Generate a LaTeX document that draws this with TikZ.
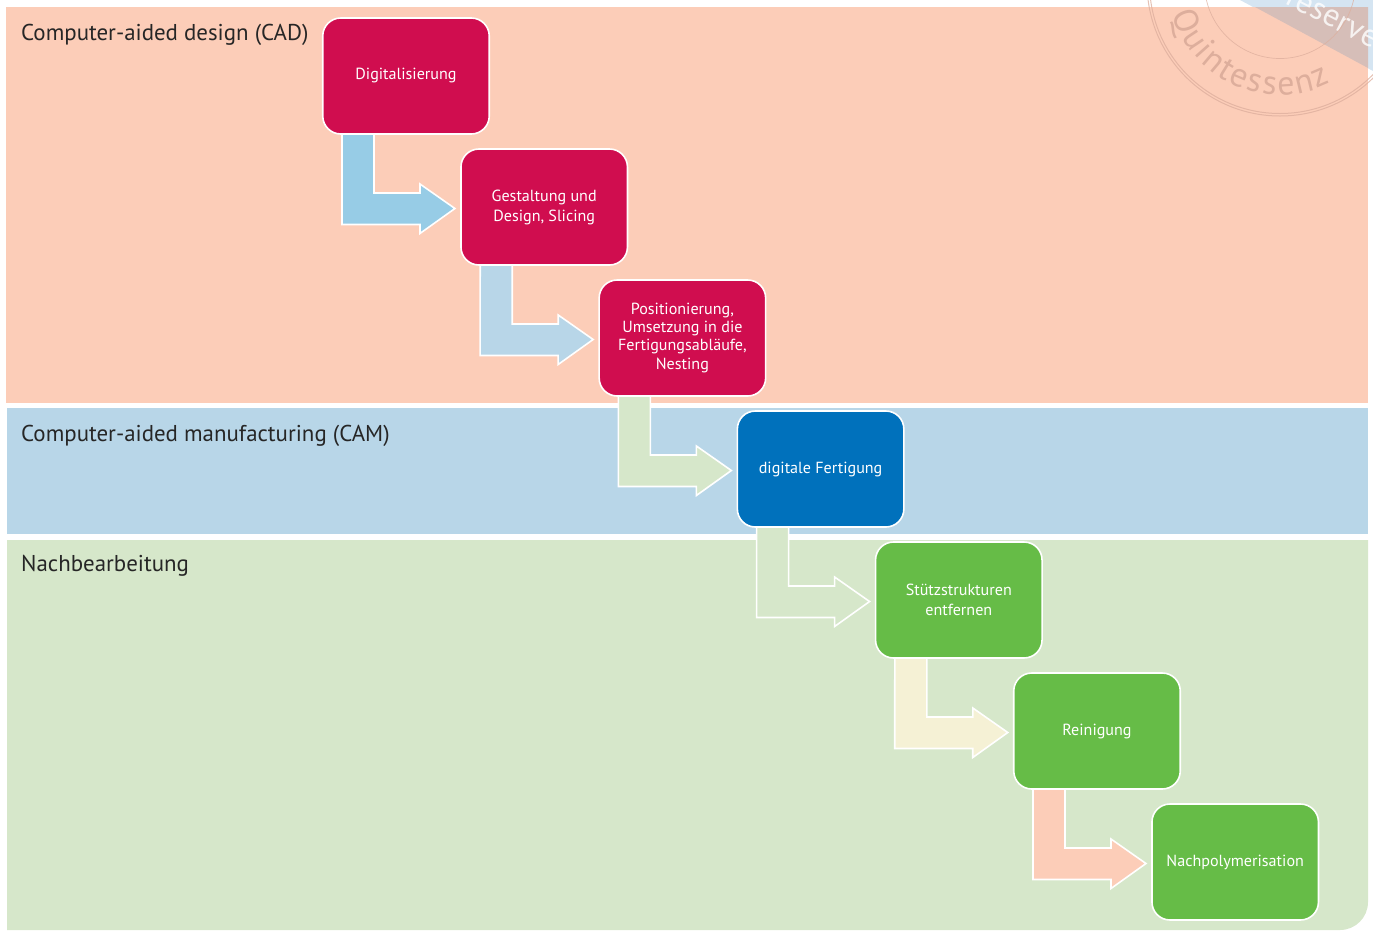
\documentclass[tikz,border=0pt]{standalone}
\usepackage{fontspec}
\setmainfont{PT Sans}
\usetikzlibrary{positioning,calc,decorations.text}
\definecolor{cadband}{HTML}{FCCDB8}
\definecolor{camband}{HTML}{B8D6E8}
\definecolor{postband}{HTML}{D6E7CA}
\definecolor{cadbox}{HTML}{D00D4F}
\definecolor{cambox}{HTML}{0071BC}
\definecolor{postbox}{HTML}{66BC47}
\definecolor{arrowa}{HTML}{97CCE6}
\definecolor{arrowe}{HTML}{F5F1D5}
\definecolor{ribbon}{HTML}{D5E5F2}
\definecolor{ribbonover}{HTML}{D6BEB8}
\definecolor{seal}{HTML}{DDAE9C}
\tikzset{
  stepbox/.style={draw=white,line width=1.6pt,rounded corners=18pt,minimum width=166.5pt,minimum height=116pt,
    outer sep=0pt,inner sep=2pt,text=white,align=center,font=\fontsize{16.1}{18.7}\selectfont},
  bandtitle/.style={anchor=base west,inner sep=0pt,text=black!85,font=\fontsize{22.9}{26}\selectfont},
  flowline/.style={draw=white,line width=1.6pt,line join=miter},
  sealline/.style={draw=seal,opacity=.75,line width=1pt}
}
\newcommand{\flowarrow}[3]{%
  \draw[flowline,fill=#3] ($(#1.south)+(-64pt,0pt)$) -- ++(32,0) -- ++(0,59) -- ++(46,0) -- ++(0,-9)
    -- ($(#2.west)+(-6pt,-1.5pt)$) -- ++(-35,25) -- ++(0,-9) -- ++(-78,0) -- cycle;
}
\begin{document}
\begin{tikzpicture}[x=1pt,y=-1pt]
\useasboundingbox (0,0) rectangle (1373,930);

\clip (0,0) rectangle (1373,930);
\fill[ribbon] (1240,0) -- (1373,71) -- (1373,0) -- cycle;
\fill[cadband] (6,7) rectangle (1368,403);
\fill[ribbonover] (1255,7) -- (1368,68) -- (1368,7) -- cycle;
\fill[camband] (7,408) rectangle (1368,534);
\fill[postband] (7,540) -- (1368,540) -- (1368,902) arc[start angle=0,end angle=90,radius=28] -- (7,930) -- cycle;

\node[rotate=-27,text=white,opacity=.8,font=\fontsize{32}{36}\selectfont] (ribbontext) at (1341,20) {reserved};
\draw[sealline] (1280,-17) circle[radius=133];
\draw[sealline] (1280,-17) circle[radius=130.5];
\draw[sealline,line width=.7pt] (1280,-17) circle[radius=75.5];
\path[postaction={decorate,decoration={text along path,text align=fit to path,
    text={|\fontsize{34}{38}\selectfont\color{seal}|Quintessenz}}}]
  (1280,-17) ++(164:112) arc[start angle=164,end angle=63,radius=112];

\node[bandtitle] (cadtitle) at (21,40.5) {Computer-aided design (CAD)};
\node[bandtitle] (camtitle) at (21,441) {Computer-aided manufacturing (CAM)};
\node[bandtitle] (posttitle) at (21,571) {Nachbearbeitung};

\node[stepbox,fill=cadbox] (digital) at (406,76) {\raisebox{-2pt}{Digitalisierung}};
\node[stepbox,fill=cadbox,below right=15pt and -28.3pt of digital] (design) {Gestaltung und\\[1.3pt]Design, Slicing};
\node[stepbox,fill=cadbox,below right=15pt and -28.3pt of design] (nesting) {\raisebox{-1pt}{Positionierung,}\\Umsetzung in die\\Fertigungsabläufe,\\Nesting};
\node[stepbox,fill=cambox,below right=15pt and -28.3pt of nesting] (fertigung) {\raisebox{-1pt}{digitale Fertigung}};
\node[stepbox,fill=postbox,below right=15pt and -28.3pt of fertigung] (stuetz) {Stützstrukturen\\[1.3pt]entfernen};
\node[stepbox,fill=postbox,below right=15pt and -28.3pt of stuetz] (reinigung) {\raisebox{-1pt}{Reinigung}};
\node[stepbox,fill=postbox,below right=15pt and -28.3pt of reinigung] (polymer) {\raisebox{-1pt}{Nachpolymerisation}};

\flowarrow{digital}{design}{arrowa}
\flowarrow{design}{nesting}{camband}
\flowarrow{nesting}{fertigung}{postband}
\flowarrow{fertigung}{stuetz}{postband}
\flowarrow{stuetz}{reinigung}{arrowe}
\flowarrow{reinigung}{polymer}{cadband}
\end{tikzpicture}
\end{document}
